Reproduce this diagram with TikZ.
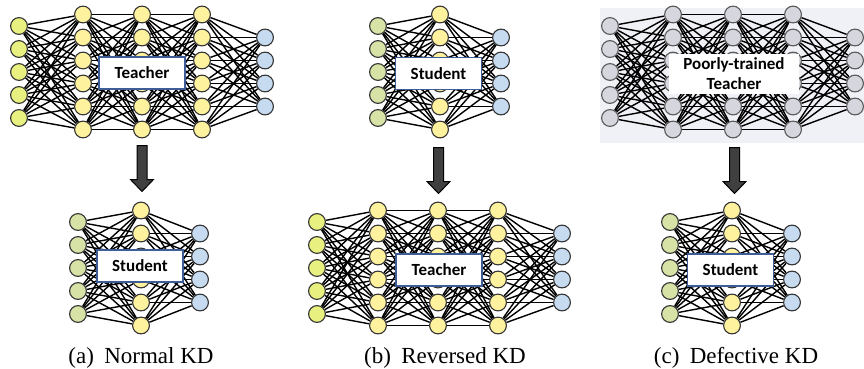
\documentclass[tikz,border=0pt]{standalone}
\usepackage{fontspec}
\setmainfont{Liberation Serif}
\newfontfamily\tagfont{Carlito}
\usetikzlibrary{
        backgrounds
    }
\definecolor{inbright}{RGB}{232,240,128}
\definecolor{inpale}{RGB}{214,226,166}
\definecolor{hidyellow}{RGB}{255,242,158}
\definecolor{outblue}{RGB}{198,218,240}
\definecolor{dullgray}{RGB}{214,214,222}
\definecolor{panelgray}{RGB}{240,240,247}
\definecolor{tagblue}{RGB}{62,92,150}
\definecolor{arrowgray}{RGB}{64,64,64}
\pgfdeclarelayer{panel}
\pgfdeclarelayer{wires}
\pgfsetlayers{panel,wires,main}
\tikzset{
    neuron/.style={circle,draw=black!80,line width=1.1pt,minimum size=16.8pt,inner sep=0pt},
    inT/.style={neuron,fill=inbright},
    inS/.style={neuron,fill=inpale},
    hid/.style={neuron,fill=hidyellow},
    outB/.style={neuron,fill=outblue},
    dull/.style={neuron,fill=dullgray,draw=black!65},
    wire/.style={line width=1.4pt,black},
    tag/.style={draw=tagblue,line width=1.2pt,fill=white,inner sep=0pt,
        minimum width=86pt,minimum height=32pt,align=center,
        font=\tagfont\bfseries\fontsize{17}{20}\selectfont},
    bigarrow/.style={draw=black,fill=arrowgray,line width=1pt,line join=miter},
    caption/.style={anchor=base,font=\fontsize{23}{27}\selectfont}
}
\begin{document}
\begin{tikzpicture}[x=1pt,y=-1pt]
    \useasboundingbox (0,0) rectangle (864,369);
    \begin{pgfonlayer}{panel}
        \fill[panelgray] (600,8) rectangle (864,143);
    \end{pgfonlayer}
    % networks: name / centre y / layers (no/x/size/style) / links (from/to/size/size)
    \foreach \net/\cy/\layers/\links in {
            aT/72/{1/19/5/inT,2/83/6/hid,3/142/6/hid,4/202/6/hid,5/265/4/outB}/{1/2/5/6,2/3/6/6,3/4/6/6,4/5/6/4},
            aS/268/{1/78/5/inS,2/141/6/hid,3/200/4/outB}/{1/2/5/6,2/3/6/4},
            bS/72/{1/378/5/inS,2/440/6/hid,3/501/4/outB}/{1/2/5/6,2/3/6/4},
            bT/268/{1/317/5/inT,2/378/6/hid,3/438/6/hid,4/498/6/hid,5/562/4/outB}/{1/2/5/6,2/3/6/6,3/4/6/6,4/5/6/4},
            cT/72/{1/610/5/dull,2/673/6/dull,3/733/6/dull,4/793/6/dull,5/855/4/dull}/{1/2/5/6,2/3/6/6,3/4/6/6,4/5/6/4},
            cS/268/{1/670/5/inS,2/732/6/hid,3/792/4/outB}/{1/2/5/6,2/3/6/4}}{
        \foreach \l/\x/\n/\s in \layers
            \foreach \i in {1,...,\n}
                \node[\s] (\net\l\i) at (\x,{\cy+(\i-(\n+1)/2)*23}) {};
        \begin{pgfonlayer}{wires}
            \foreach \l/\m/\p/\q in \links
                \foreach \i in {1,...,\p}
                    \foreach \j in {1,...,\q}
                        \draw[wire] (\net\l\i) -- (\net\m\j);
        \end{pgfonlayer}
    }
    \node[tag] (aTtag) at (142,73) {Teacher};
    \node[tag] (aStag) at (140,266) {Student};
    \node[tag] (bStag) at (438.5,73.5) {Student};
    \node[tag] (bTtag) at (439,270) {Teacher};
    \node[tag,draw=white,minimum width=128pt,minimum height=38pt] (cTtag) at (734,74) {Poorly-trained\\Teacher};
    \node[tag] (cStag) at (730.5,270) {Student};
    % block arrows teacher -> student
    \foreach \a/\x/\y in {aArrow/142/145.5,bArrow/438.5/147.5,cArrow/734.5/147.5}{
        \coordinate (\a) at (\x,\y);
        \draw[bigarrow] (\a) ++(-5,0) -- ++(10,0) -- ++(0,34) -- ++(6.5,0)
            -- ++(-11.5,12) -- ++(-11.5,-12) -- ++(6.5,0) -- cycle;
    }
    \node[caption] (aCap) at (141,363) {(a)\hspace{.45em}Normal KD};
    \node[caption] (bCap) at (445,363) {(b)\hspace{.45em}Reversed KD};
    \node[caption] (cCap) at (736,363) {(c)\hspace{.45em}Defective KD};
\end{tikzpicture}
\end{document}
